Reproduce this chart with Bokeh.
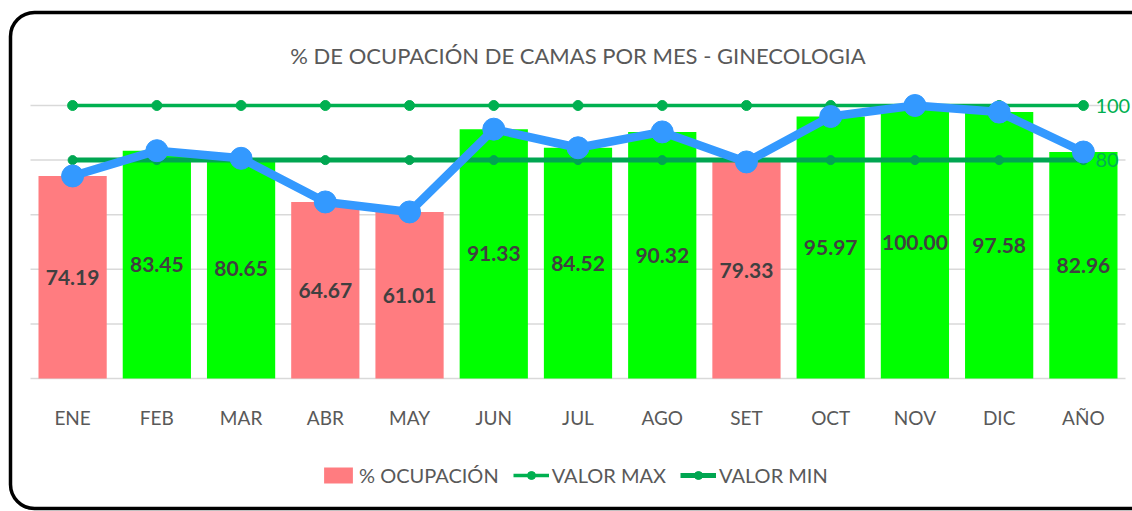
from bokeh.plotting import figure
from bokeh.models import ColumnDataSource, Range1d, Legend, LegendItem, BoxAnnotation, Node
from bokeh.core.properties import value
from bokeh.embed import file_html
from bokeh.resources import INLINE

# ---- data ----
months = ["ENE", "FEB", "MAR", "ABR", "MAY", "JUN", "JUL", "AGO", "SET", "OCT", "NOV", "DIC", "AÑO"]
ocupacion = [74.19, 83.45, 80.65, 64.67, 61.01, 91.33, 84.52, 90.32, 79.33, 95.97, 100.00, 97.58, 82.96]
valor_max = [100] * 13
valor_min = [80] * 13
grid_ticks = [0, 20, 40, 60, 80, 100]
title_text = "% DE OCUPACIÓN DE CAMAS POR MES - GINECOLOGIA"

RED = "#FF7C80"
GREEN = "#00FF00"
BLUE = "#3399FF"
LGREEN = "#00B050"
FONT = "Lato"
GRAY = "#595959"

n = len(months)
xs = list(range(n))
colors = [RED if v < valor_min[0] else GREEN for v in ocupacion]
labels = ["%.2f" % v for v in ocupacion]
half = [v / 2 for v in ocupacion]
base = [grid_ticks[0]] * n

src = ColumnDataSource(dict(x=xs, m=months, v=ocupacion, c=colors, lab=labels, half=half,
                            mx=valor_max, mn=valor_min, b=base))

W, H = 1132, 511
PX_PER_CAT = 84.23
PX_PER_UNIT = 2.73
x_start = -0.5 - 30 / PX_PER_CAT
x_end = n - 0.5 + 7 / PX_PER_CAT
y_start = -(H - 378) / PX_PER_UNIT
y_end = 378 / PX_PER_UNIT

p = figure(x_range=Range1d(x_start, x_end), y_range=Range1d(y_start, y_end),
           width=W, height=H, output_backend="svg", toolbar_location=None,
           min_border=0, min_border_left=0, min_border_right=0,
           min_border_top=0, min_border_bottom=0)
p.outline_line_color = None
p.axis.visible = False
p.grid.visible = False

# horizontal gridlines over the category span
p.segment(x0=[-0.5] * len(grid_ticks), x1=[n - 0.5] * len(grid_ticks),
          y0=grid_ticks, y1=grid_ticks, line_color="#D9D9D9", line_width=1.5)

bars = p.vbar(x="x", top="v", width=0.81, fill_color="c", line_color=None, source=src)

l_max = p.line("x", "mx", line_color=LGREEN, line_width=3.5, source=src)
s_max = p.scatter("x", "mx", size=10, fill_color=LGREEN, line_color=LGREEN, source=src)
l_min = p.line("x", "mn", line_color="#00A651", line_width=5, source=src)
s_min = p.scatter("x", "mn", size=9, fill_color="#00A651", line_color="#00A651", source=src)

p.line("x", "v", line_color=BLUE, line_width=8.5, source=src)
p.scatter("x", "v", size=22, fill_color=BLUE, line_color=BLUE, source=src)

p.text("x", "half", text="lab", text_align="center", text_baseline="middle",
       text_font=value(FONT), text_font_style="bold", text_font_size="21px",
       text_color="#404040", source=src)

# category labels below the baseline
p.text("x", "b", text="m", y_offset=39, text_align="center", text_baseline="middle",
       text_font=value(FONT), text_font_size="19px", text_color=GRAY, source=src)

# right-end labels for the reference lines
p.text(x=[xs[-1]], y=[valor_max[-1]], text=[str(valor_max[-1])], x_offset=12,
       text_align="left", text_baseline="middle", text_font=value(FONT),
       text_font_size="20px", text_color=LGREEN)
p.text(x=[xs[-1]], y=[valor_min[-1]], text=[str(valor_min[-1])], x_offset=12,
       text_align="left", text_baseline="middle", text_font=value(FONT),
       text_font_size="20px", text_color=LGREEN)

# chart title
p.text(x=[(n - 1) / 2], y=[y_end], text=[title_text], y_offset=55,
       text_align="center", text_baseline="middle", text_font=value(FONT),
       text_font_size="22px", text_color=GRAY)

# rounded chart border
border = BoxAnnotation(left=Node(target="canvas", symbol="left", offset=10),
                       top=Node(target="canvas", symbol="top", offset=12),
                       bottom=Node(target="canvas", symbol="bottom", offset=-3),
                       right=Node(target="canvas", symbol="right", offset=30),
                       fill_alpha=0, line_color="black", line_alpha=1.0, line_width=3.5,
                       border_radius=24, level="overlay", editable=False)
p.add_layout(border)

legend = Legend(items=[
    LegendItem(label="% OCUPACIÓN", renderers=[bars], index=0),
    LegendItem(label="VALOR MAX", renderers=[l_max, s_max]),
    LegendItem(label="VALOR MIN", renderers=[l_min, s_min]),
], orientation="horizontal", location=(320, 24))
legend.border_line_color = None
legend.background_fill_alpha = 0
legend.label_text_font = FONT
legend.label_text_font_size = "20px"
legend.label_text_color = GRAY
legend.glyph_width = 36
legend.glyph_height = 20
legend.label_standoff = 3
legend.spacing = 14
legend.padding = 0
legend.margin = 0
p.add_layout(legend)

open("out.html", "w").write(file_html(p, INLINE))
